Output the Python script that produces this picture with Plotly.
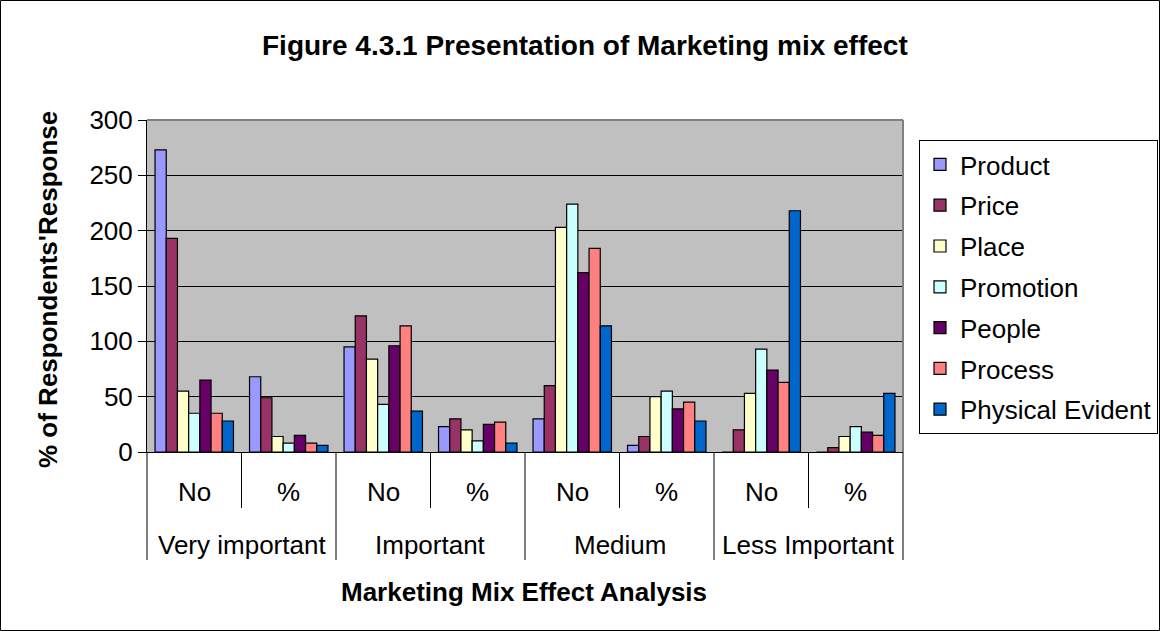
import plotly.graph_objects as go

groups = ["Very important", "Very important", "Important", "Important",
          "Medium", "Medium", "Less Important", "Less Important"]
subs = ["No", "%", "No", "%", "No", "%", "No", "%"]

series_names = ["Product", "Price", "Place", "Promotion", "People", "Process", "Physical Evident"]
product = [273, 68, 95, 23, 30, 6, 0, 0]
price = [193, 49, 123, 30, 60, 14, 20, 4]
place = [55, 14, 84, 20, 203, 50, 53, 14]
promotion = [35, 8, 43, 10, 224, 55, 93, 23]
people = [65, 15, 96, 25, 162, 39, 74, 18]
process = [35, 8, 114, 27, 184, 45, 63, 15]
physical = [28, 6, 37, 8, 114, 28, 218, 53]
values = [product, price, place, promotion, people, process, physical]
colors = ["#9999FF", "#993366", "#FFFFCC", "#CCFFFF", "#660066", "#FF8080", "#0066CC"]

W, H = 1161, 632
L, R, T, B = 147, 258, 120, 180
pw, ph = W - L - R, H - T - B

def py(pix):  # pixel row -> paper y
    return (H - B - pix) / ph

def px(pix):  # pixel col -> paper x
    return (pix - L) / pw

fig = go.Figure()
for name, vals, col in zip(series_names, values, colors):
    fig.add_trace(go.Bar(x=[groups, subs], y=vals, name=name, legendgroup=name,
                         marker=dict(color=col, line=dict(color="black", width=1.2))))

font = "Liberation Sans, Arial, sans-serif"
n = len(subs)
shapes = [
    dict(type="rect", xref="paper", yref="paper",
         x0=px(0.5), x1=px(W - 1.5), y0=py(H - 1.5), y1=py(0.5),
         line=dict(color="black", width=1), fillcolor="rgba(0,0,0,0)", layer="above"),
    dict(type="line", xref="paper", yref="paper", x0=0, x1=1, y0=1, y1=1,
         line=dict(color="#808080", width=2)),
    dict(type="line", xref="paper", yref="paper", x0=1, x1=1, y0=0, y1=1,
         line=dict(color="#808080", width=2)),
]
annotations = []
for i in range(n + 1):
    is_group_edge = i == 0 or i == n or groups[i] != groups[i - 1]
    shapes.append(dict(type="line", xref="paper", yref="paper", x0=i / n, x1=i / n,
                       y0=0, y1=py(560 if is_group_edge else 508),
                       line=dict(color="black", width=1)))
for i, s in enumerate(subs):
    annotations.append(dict(text=s, xref="paper", yref="paper", x=(i + 0.5) / n, y=py(492),
                            xanchor="center", yanchor="middle", showarrow=False,
                            font=dict(size=26)))
seen = []
for g in groups:
    if g not in seen:
        seen.append(g)
for g in seen:
    idx = [i for i, gg in enumerate(groups) if gg == g]
    annotations.append(dict(text=g, xref="paper", yref="paper",
                            x=(idx[0] + idx[-1] + 1) / 2 / n, y=py(545),
                            xanchor="center", yanchor="middle", showarrow=False,
                            font=dict(size=26)))
annotations += [
    dict(text="<b>Figure 4.3.1 Presentation of Marketing mix effect</b>",
         xref="paper", yref="paper", x=px(585), y=py(45),
         xanchor="center", yanchor="middle", showarrow=False, font=dict(size=28)),
    dict(text="<b>% of Respondents'Response</b>", textangle=-90,
         xref="paper", yref="paper", x=px(48), y=py(290),
         xanchor="center", yanchor="middle", showarrow=False, font=dict(size=26)),
    dict(text="<b>Marketing Mix Effect Analysis</b>",
         xref="paper", yref="paper", x=px(524), y=py(592),
         xanchor="center", yanchor="middle", showarrow=False, font=dict(size=26)),
]

fig.update_layout(
    width=W, height=H,
    margin=dict(l=L, r=R, t=T, b=B, autoexpand=False),
    paper_bgcolor="white", plot_bgcolor="#C0C0C0",
    font=dict(family=font, size=26, color="black"),
    barmode="group", bargap=0.17, bargroupgap=0,
    showlegend=True,
    legend=dict(x=px(919), y=py(140), xanchor="left", yanchor="top",
                bgcolor="white", bordercolor="black", borderwidth=1,
                font=dict(size=26, family=font), tracegroupgap=4,
                itemwidth=30),
    xaxis=dict(type="multicategory", showline=True, linecolor="black", linewidth=1,
               ticks="", showticklabels=False, showdividers=False, showgrid=False),
    yaxis=dict(range=[0, 300], dtick=50, showline=True, linecolor="black", linewidth=1,
               gridcolor="black", gridwidth=1, ticks="outside", ticklen=8,
               tickcolor="black", tickfont=dict(size=26, family=font), zeroline=False),
    annotations=annotations,
    shapes=shapes,
)
fig.write_html("out.html", config={"displayModeBar": False},
               post_script="document.body.style.margin='0px';")
